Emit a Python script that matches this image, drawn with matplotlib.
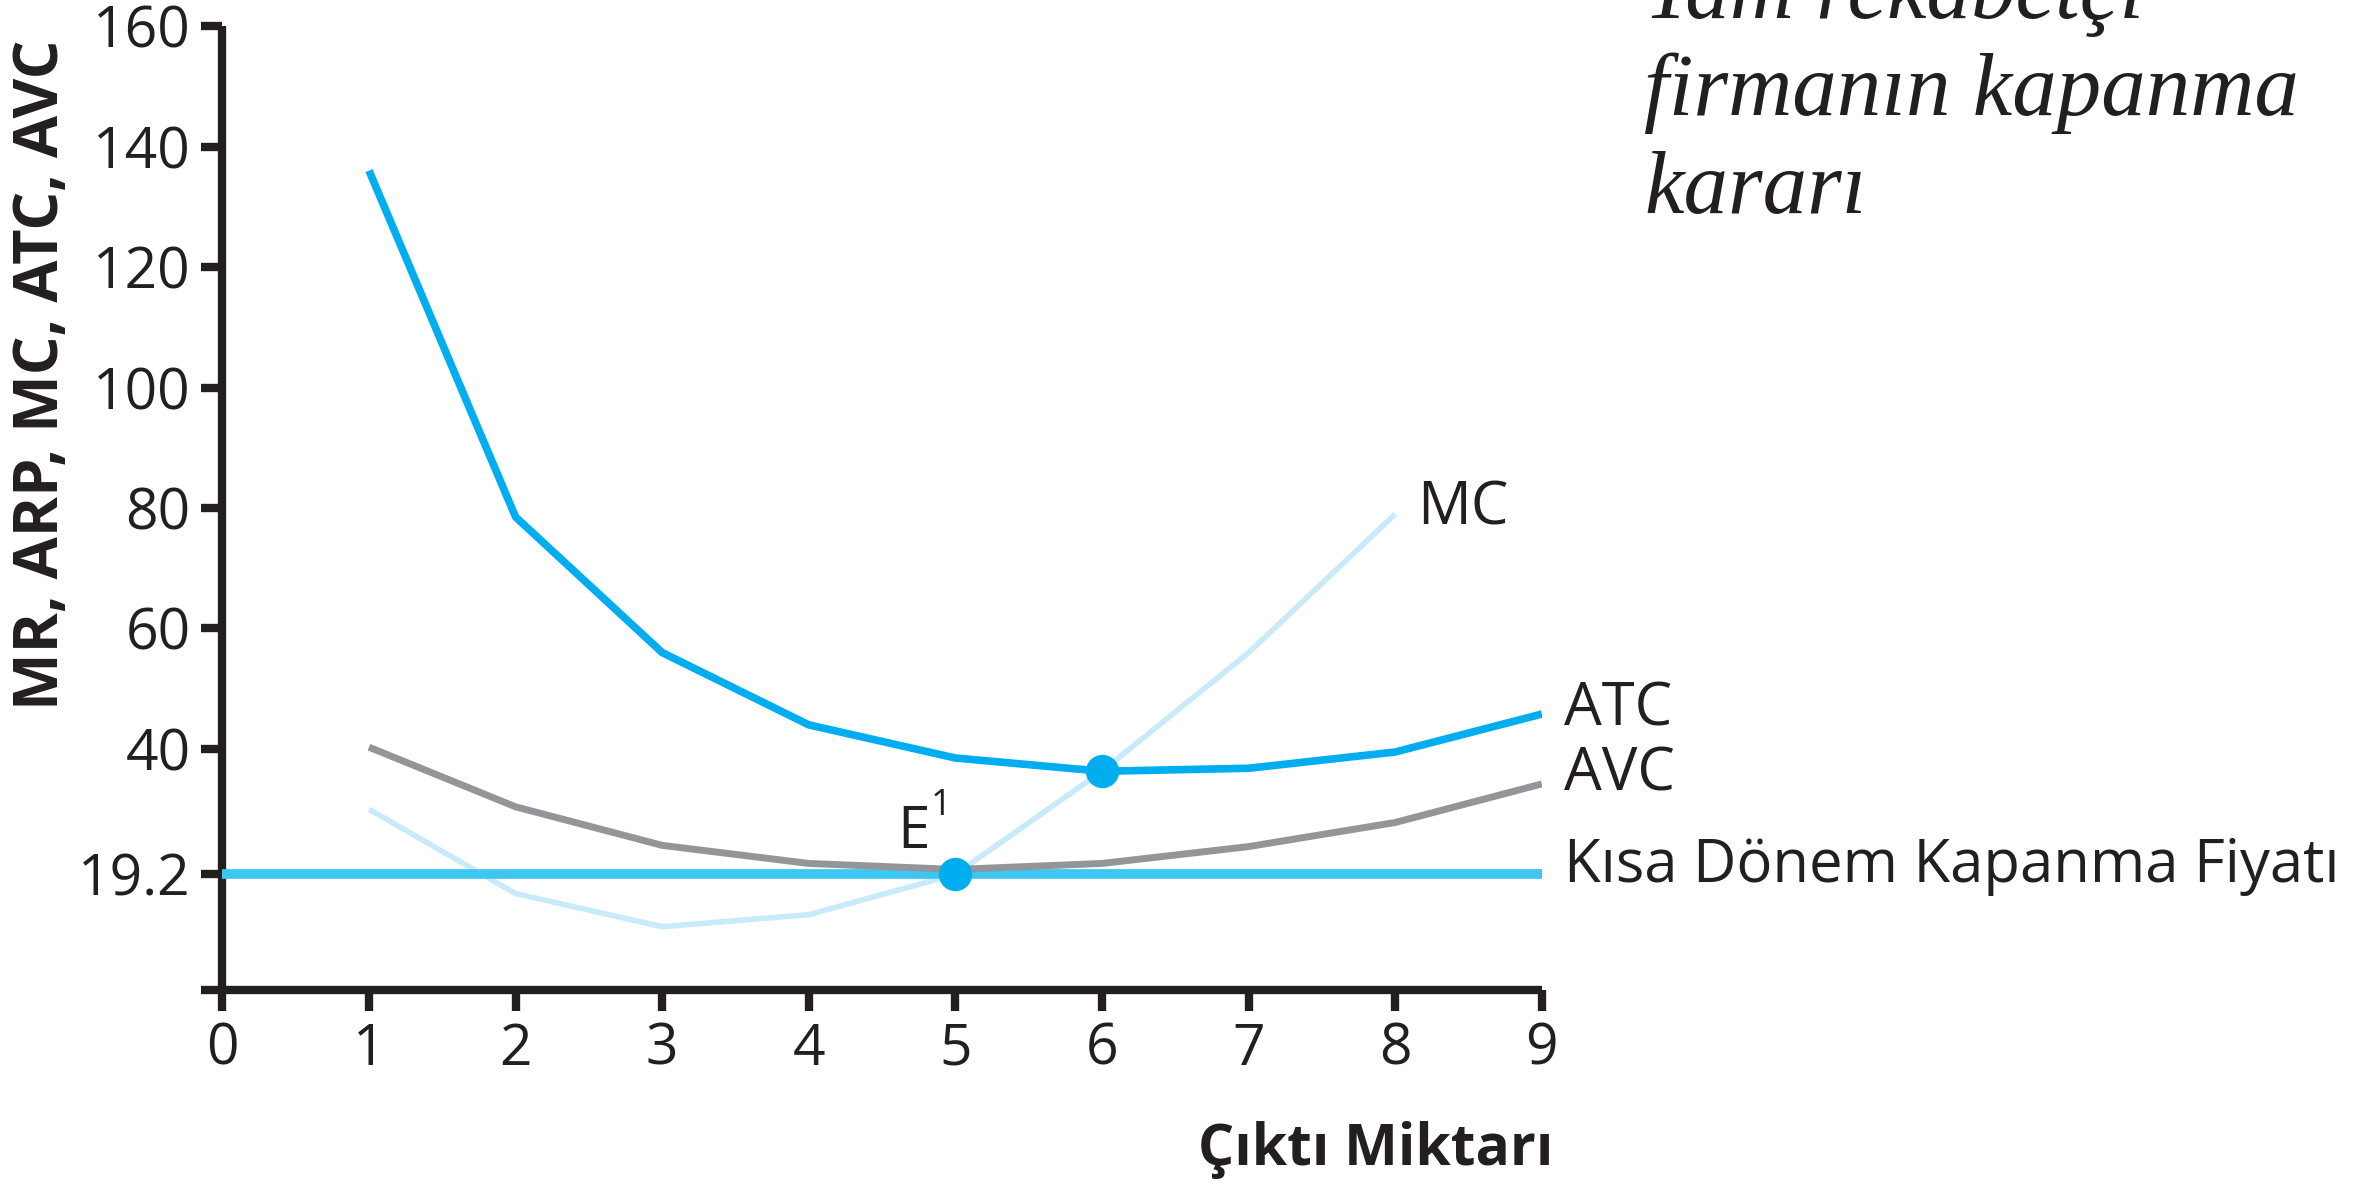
import numpy as np
import matplotlib
matplotlib.use("Agg")
import matplotlib.pyplot as plt

# data
quantity = [1, 2, 3, 4, 5, 6, 7, 8, 9]
atc = [136, 78.5, 56, 44, 38.5, 36.3, 36.8, 39.5, 45.8]
avc = [40.3, 30.4, 24, 21, 20, 21, 23.8, 27.8, 34.2]
mc_q = [1, 2, 3, 4, 5, 6, 7, 8]
mc = [30, 16, 10.5, 12.5, 19.2, 36.3, 56, 79]
shutdown_price = 19.2
points_q = [5, 6]
points_y = [19.2, 36.3]

yticks = [0, 19.2, 40, 60, 80, 100, 120, 140, 160]
yticklabels = ['', '19.2', '40', '60', '80', '100', '120', '140', '160']
xticks = list(range(10))

BLUE = '#00aeef'
LIGHTBLUE = '#c8eafa'
CYAN = '#3ec6f2'
GREY = '#939598'
INK = '#231f20'

FONT = 'Open Sans'

fig = plt.figure(figsize=(23.71, 11.89), dpi=100)
ax = fig.add_axes([0.0938, 0.1674, 0.5565, 0.8107])

ax.plot(mc_q, mc, color=LIGHTBLUE, lw=4, solid_capstyle='butt', zorder=2)
ax.plot([0, 9], [shutdown_price, shutdown_price], color=CYAN, lw=7, solid_capstyle='butt', zorder=3)
ax.plot(quantity, avc, color=GREY, lw=5, solid_capstyle='butt', zorder=4)
ax.plot(quantity, atc, color=BLUE, lw=5.5, solid_capstyle='butt', zorder=4)
ax.plot(points_q, points_y, 'o', color=BLUE, ms=24, mec='none', zorder=5)

ax.set_xlim(0, 9)
ax.set_ylim(0, 160)
ax.set_xticks(xticks)
ax.set_yticks(yticks)
ax.set_yticklabels(yticklabels)
for s in ['top', 'right']:
    ax.spines[s].set_visible(False)
for s in ['left', 'bottom']:
    ax.spines[s].set_linewidth(6)
    ax.spines[s].set_color(INK)
    ax.spines[s].set_capstyle('butt')
ax.tick_params(length=15, width=6, color=INK, labelsize=41, labelcolor=INK, pad=8)
for lab in ax.get_xticklabels() + ax.get_yticklabels():
    lab.set_family(FONT)

kw = dict(family=FONT, color=INK, fontsize=43, va='center', ha='left', clip_on=False)
ax.text(8.15, 80, 'MC', **kw)
ax.text(9.15, 46.5, 'ATC', **kw)
ax.text(9.15, 35.8, 'AVC', **kw)
ax.text(9.15, 20.6, 'Kısa Dönem Kapanma Fiyatı', **kw)
ax.text(4.6, 23.5, 'E', family=FONT, color=INK, fontsize=42, va='baseline', ha='left')
ax.text(4.83, 29, '1', family=FONT, color=INK, fontsize=26, va='baseline', ha='left')

fig.text(0.018, 0.685, 'MR, ARP, MC, ATC, AVC', rotation=90, family=FONT,
         weight='bold', fontsize=44, color=INK, ha='center', va='center')
fig.text(0.655, 0.033, 'Çıktı Miktarı', family=FONT, weight='bold',
         fontsize=41, color=INK, ha='right', va='center')

title_kw = dict(family='Liberation Serif', style='italic', fontsize=64, color=INK,
                ha='left', va='baseline')
fig.text(0.6935, 0.985, 'Tam rekabetçi', **title_kw)
fig.text(0.6935, 0.903, 'firmanın kapanma', **title_kw)
fig.text(0.6935, 0.821, 'kararı', **title_kw)

fig.savefig('out.png', dpi=100)
